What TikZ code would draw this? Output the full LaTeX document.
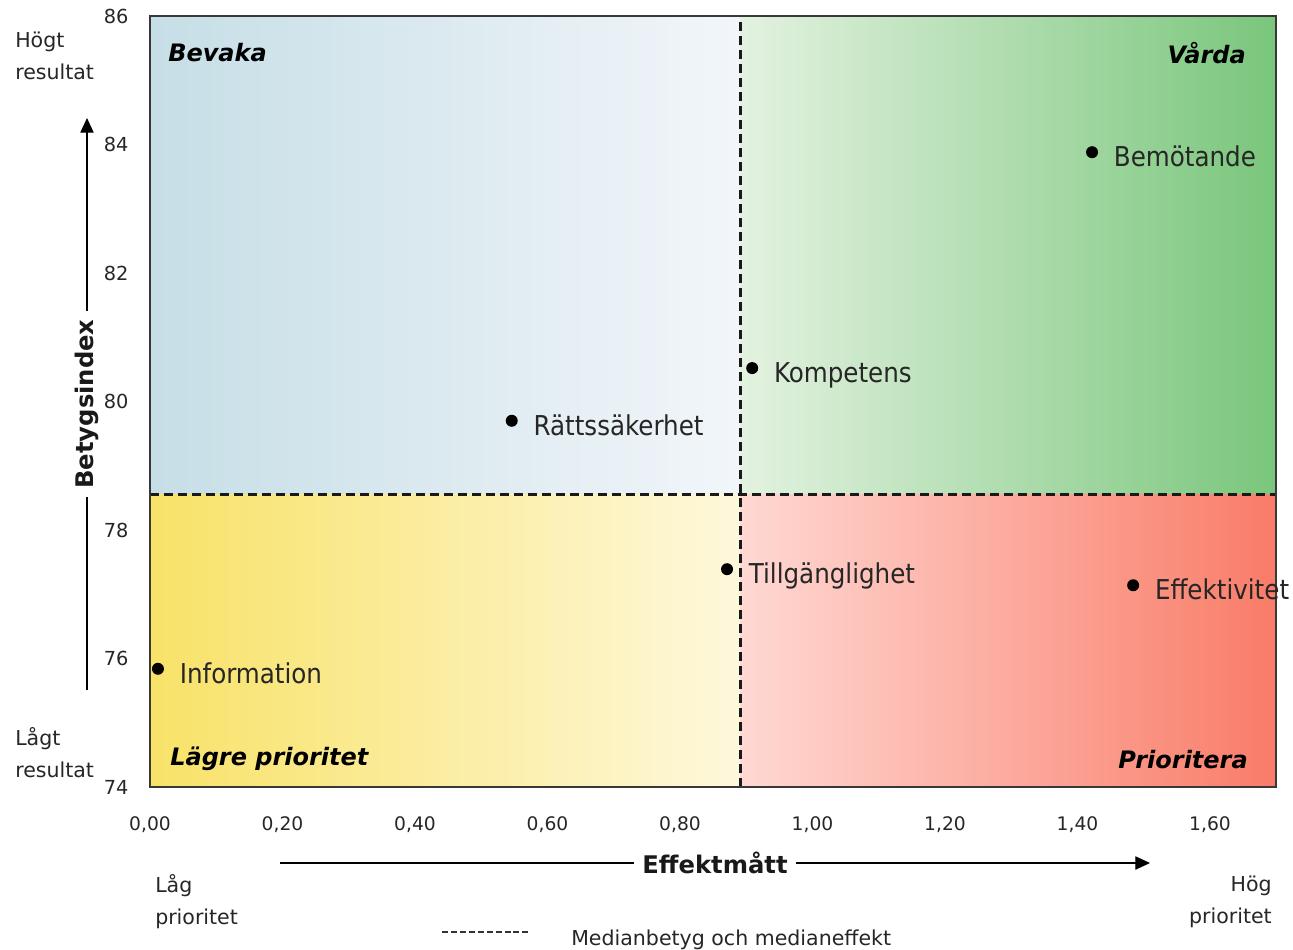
\documentclass[tikz,border=0pt]{standalone}
\usepackage{fontspec}
\setmainfont{DejaVu Sans}
\newfontfamily\lblfont{DejaVu Sans Condensed}
\usetikzlibrary{positioning,arrows.meta}

\definecolor{bevL}{HTML}{C6DEE6}
\definecolor{bevR}{HTML}{F2F6FA}
\definecolor{vardL}{HTML}{E3F2E0}
\definecolor{vardR}{HTML}{7AC67C}
\definecolor{lagL}{HTML}{F8E268}
\definecolor{lagR}{HTML}{FEF8DC}
\definecolor{prioL}{HTML}{FFD8D3}
\definecolor{prioR}{HTML}{F97C68}

\begin{document}
\begin{tikzpicture}[x=0.75pt,y=-0.75pt,
    dot/.style={circle,fill=black,inner sep=0pt,minimum size=9pt},
    pointlbl/.style={font=\lblfont\fontsize{20.5}{24}\selectfont,text=black!85,inner sep=0pt,anchor=base west},
    quadlbl/.style={font=\fontsize{18}{22}\selectfont\bfseries\itshape,inner sep=0pt},
    ticklbl/.style={font=\fontsize{14}{17}\selectfont,text=black!85,inner sep=0pt},
    sidelbl/.style={font=\fontsize{15.4}{24}\selectfont,text=black!85,inner sep=0pt,align=left},
    axistitle/.style={font=\fontsize{18.2}{22}\selectfont\bfseries,text=black!90,fill=white,inner xsep=6pt,inner ysep=0.5pt},
    median/.style={line width=2.1pt,dash pattern=on 6.5pt off 4pt,black!90},
    legenddash/.style={line width=0.9pt,dash pattern=on 4.5pt off 2.2pt,black!80},
    axisarrow/.style={line width=0.8pt,-{Triangle[length=11pt,width=10pt]}}]

    \useasboundingbox (0,0) rectangle (1293,950);

    % plot area in data units
    \begin{scope}[shift={(112.5pt,-4156.125pt)},x=496.875pt,y=48.1875pt]
    \shade[left color=bevL,right color=bevR] (0,78.55) rectangle (0.891,86);
    \shade[left color=vardL,right color=vardR] (0.891,78.55) rectangle (1.7,86);
    \shade[left color=lagL,right color=lagR] (0,74) rectangle (0.891,78.55);
    \shade[left color=prioL,right color=prioR] (0.891,74) rectangle (1.7,78.55);

    \draw[median] (0.891,74) -- (0.891,86);
    \draw[median] (0,78.55) -- (1.7,78.55);
    \draw[line width=1.6pt,black!78] (0,74) rectangle (1.7,86);

    \foreach \v in {74,76,...,86}
        \node[ticklbl,font=\fontsize{14.5}{17}\selectfont,anchor=east] (yt\v) at ([xshift=-16pt]0,\v) {\v};
    \foreach \v/\t [count=\i] in {0/{0,00},0.2/{0,20},0.4/{0,40},0.6/{0,60},0.8/{0,80},1/{1,00},1.2/{1,20},1.4/{1,40},1.6/{1,60}}
        \node[ticklbl] (xt\i) at ([yshift=-28.5pt]\v,74) {\t};

    \node[dot] (bem) at (1.422,83.88) {};
    \node[right=11.5pt of bem,pointlbl,yshift=-11pt] {Bemötande};
    \node[dot] (komp) at (0.909,80.52) {};
    \node[right=11.5pt of komp,pointlbl,yshift=-11pt] {Kompetens};
    \node[dot] (ratt) at (0.546,79.70) {};
    \node[right=11.5pt of ratt,pointlbl,yshift=-11pt] {Rättssäkerhet};
    \node[dot] (tillg) at (0.871,77.39) {};
    \node[right=11.5pt of tillg,pointlbl,yshift=-11pt] {Tillgänglighet};
    \node[dot] (eff) at (1.484,77.14) {};
    \node[right=11.5pt of eff,pointlbl,yshift=-11pt] {Effektivitet};
    \node[dot] (info) at (0.012,75.84) {};
    \node[right=11.5pt of info,pointlbl,yshift=-11pt] {Information};
    \end{scope}

    % quadrant names
    \node[quadlbl,anchor=base west] (bevaka) at (168,61) {Bevaka};
    \node[quadlbl,anchor=base east] (varda) at (1246,63) {Vårda};
    \node[quadlbl,anchor=base west] (lagre) at (170,765) {Lägre prioritet};
    \node[quadlbl,anchor=base east] (prio) at (1248,768) {Prioritera};

    % axes
    \coordinate (ybot) at (87,690);
    \coordinate (ytop) at (87,118);
    \draw[axisarrow] (ybot) -- node[axistitle,rotate=90] (ytitle) {Betygsindex} (ytop);
    \coordinate (xleft) at (280,863);
    \coordinate (xright) at (1150,863);
    \draw[axisarrow] (xleft) -- node[axistitle] (xtitle) {Effektmått} (xright);

    \node[sidelbl,anchor=west] (hogt) at (15,56) {Högt\\resultat};
    \node[sidelbl,anchor=west] (lagt) at (15,753) {Lågt\\resultat};
    \node[sidelbl,anchor=west] (lag) at (155,902) {Låg\\prioritet};
    \node[sidelbl,anchor=east,align=right] (hog) at (1272,902) {Hög\\prioritet};

    % legend
    \coordinate (lgA) at (442,932);
    \coordinate (lgB) at (528,932);
    \draw[legenddash] (lgA) -- (lgB);
    \node[sidelbl,anchor=base west] (lgtext) at (571,945) {Medianbetyg och medianeffekt};
\end{tikzpicture}
\end{document}
